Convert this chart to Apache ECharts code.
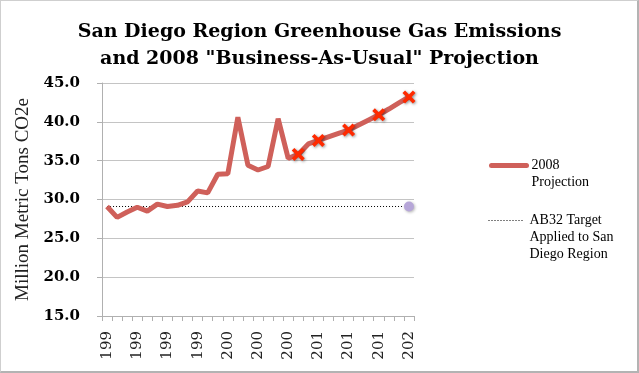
<!DOCTYPE html>
<html><head><meta charset="utf-8">
<script src="https://cdn.jsdelivr.net/npm/echarts@6/dist/echarts.min.js"></script>
<style>
html,body{margin:0;padding:0;background:#fff;}
#wrap{position:relative;width:639px;height:373px;overflow:hidden;}
#chart{position:absolute;left:0;top:0;width:639px;height:373px;}
#frame{position:absolute;left:0;top:0;width:636px;height:370px;border:1px solid #cfcfcf;border-right:2px solid #b3b3b3;border-bottom:2px solid #b3b3b3;pointer-events:none;}
</style></head><body>
<div id="wrap"><div id="chart"></div><div id="frame"></div></div>
<script>
const years = ['1990','1991','1992','1993','1994','1995','1996','1997','1998','1999','2000','2001','2002','2003','2004','2005','2006','2007','2008','2009','2010','2011','2012','2013','2014','2015','2016','2017','2018','2019','2020'];
const emissions = [29.1,27.7,28.4,29.0,28.5,29.4,29.1,29.25,29.7,31.1,30.85,33.25,33.3,40.6,34.4,33.8,34.25,40.4,35.3,35.8,37.15,37.6,38.05,38.5,38.95,39.6,40.25,40.9,41.65,42.45,43.2];
const projectionMarkerYears = ['2009','2011','2014','2017','2020'];
const targetYears = ['1990','2020'];
const targetValues = [29.1, 29.1];
const yTicks = [15,20,25,30,35,40,45];
const legendLines1 = ['2008','Projection'];
const legendLines2 = ['AB32 Target','Applied to San','Diego Region'];

const xPath = 'path://M0,2 L2,0 L5,3 L8,0 L10,2 L7,5 L10,8 L8,10 L5,7 L2,10 L0,8 L3,5 Z';
const mainData = emissions.map((v,i) => projectionMarkerYears.includes(years[i]) ? {
  value: v, symbol: xPath, symbolSize: 13,
  itemStyle: {color:'#ff2a00', shadowColor:'rgba(0,0,0,0.45)', shadowBlur:3, shadowOffsetX:1, shadowOffsetY:1}
} : {value: v, symbol: 'none'});
const targetData = targetYears.map((y,i) => i === targetYears.length-1 ? {
  value: [y, targetValues[i]], symbol:'circle', symbolSize:10,
  itemStyle:{color:'#b6a6d8', shadowColor:'rgba(0,0,0,0.3)', shadowBlur:3, shadowOffsetX:1, shadowOffsetY:1}
} : {value:[y, targetValues[i]], symbol:'none'});

// prepend blank lines so that the first text line sits level with the legend icon
const topAligned = lines => Array(lines.length-1).fill(' ').concat(lines).join('\n');

const legendText = {fontFamily:'Liberation Serif', fontSize:14, lineHeight:17, color:'#000'};
const chart = echarts.init(document.getElementById('chart'), null, {renderer:'canvas'});
chart.setOption({
  animation:false,
  backgroundColor:'#fff',
  title:{
    text:'San Diego Region Greenhouse Gas Emissions\nand 2008 "Business-As-Usual" Projection',
    left:'center', top:14,
    textStyle:{fontFamily:'DejaVu Serif', fontWeight:'bold', fontSize:19, lineHeight:27, color:'#000'}
  },
  legend:[{
    orient:'vertical', left:489, top:140, padding:0, itemWidth:35, itemHeight:14, selectedMode:false,
    data:['2008 Projection'],
    formatter:()=> topAligned(legendLines1),
    itemStyle:{opacity:0},
    lineStyle:{width:5, cap:'round', color:'#cf605a'},
    textStyle:legendText
  },{
    orient:'vertical', left:488, top:178, padding:0, itemWidth:36, itemHeight:14, selectedMode:false,
    data:['AB32 Target Applied to San Diego Region'],
    formatter:()=> topAligned(legendLines2),
    itemStyle:{opacity:0},
    lineStyle:{width:1, type:[1,2], color:'#000'},
    textStyle:legendText
  }],
  grid:{left:102, right:225, top:83, bottom:57, containLabel:false, outerBoundsMode:'none'},
  xAxis:{
    type:'category', data:years, boundaryGap:true,
    axisLine:{lineStyle:{color:'#b0b0b0', width:1}},
    axisTick:{show:true, interval:0, length:5, lineStyle:{color:'#b0b0b0'}},
    axisLabel:{interval:2, rotate:90, margin:15, formatter:v=>v.slice(0,3),
      fontFamily:'DejaVu Serif', fontSize:15, color:'#222'},
    splitLine:{show:false}
  },
  yAxis:{
    type:'value', min:yTicks[0], max:yTicks[yTicks.length-1], interval:5,
    name:'Million Metric Tons CO2e', nameLocation:'middle', nameGap:69,
    nameTextStyle:{fontFamily:'Liberation Serif', fontSize:19, color:'#222'},
    axisLine:{show:true, lineStyle:{color:'#b0b0b0'}},
    axisTick:{show:true, length:5, lineStyle:{color:'#b0b0b0'}},
    axisLabel:{margin:22, formatter:v=>v.toFixed(1), fontFamily:'DejaVu Serif', fontWeight:'bold', fontSize:15, color:'#000'},
    splitLine:{lineStyle:{color:'#c4c4c4', width:1}}
  },
  series:[{
    name:'AB32 Target Applied to San Diego Region', type:'line', data:targetData,
    symbol:'none', showAllSymbol:true, lineStyle:{color:'#000', width:1, type:[1,2]}, itemStyle:{color:'#000'},
    emphasis:{disabled:true}, z:2
  },{
    name:'2008 Projection', type:'line', data:mainData,
    symbol:'none', showSymbol:true, showAllSymbol:true, lineStyle:{color:'#cf605a', width:5}, itemStyle:{color:'#cf605a'},
    emphasis:{disabled:true}, z:3
  }]
});
</script>
</body></html>
